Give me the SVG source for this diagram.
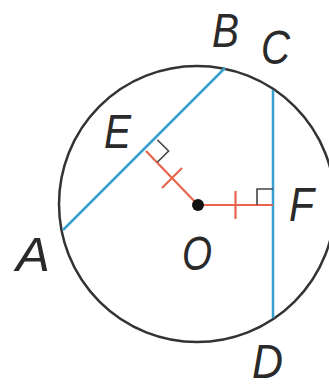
<svg xmlns="http://www.w3.org/2000/svg" width="329" height="389" viewBox="0 0 329 389">
<style>
.lbl{font-family:"Liberation Sans",Arial,sans-serif;font-style:italic;font-size:48px;fill:#2a2a2a}
.chord{stroke:#3a9fd2;stroke-width:2.5;fill:none}
.red{stroke:#e8654d;stroke-width:2.2;fill:none}
.ra{stroke:#444;stroke-width:1.6;fill:none}
</style>
<rect width="329" height="389" fill="#ffffff"/>
<g id="circle"><circle cx="197" cy="204" r="138" fill="none" stroke="#333" stroke-width="2.5"/></g>
<g id="connectors">
<line id="chordAB" class="chord" x1="63" y1="230" x2="225" y2="68"/>
<line id="chordCD" class="chord" x1="273" y1="90" x2="273" y2="318"/>
<line id="OE" class="red" x1="198" y1="205" x2="146" y2="151"/>
<line id="OF" class="red" x1="198" y1="205" x2="273" y2="205"/>
<line class="red" x1="162" y1="188" x2="182" y2="168"/>
<line class="red" x1="235.5" y1="191" x2="235.5" y2="219"/>
<path class="ra" d="M157.3,139.7 L168.6,151 L157.3,162.3"/>
<path class="ra" d="M273,189 L257,189 L257,205"/>
</g>
<g id="O"><circle cx="198" cy="205" r="6" fill="#111"/><text class="lbl" x="182" y="270" textLength="30" lengthAdjust="spacingAndGlyphs">O</text></g>
<g id="A"><text class="lbl" x="16" y="271" textLength="34" lengthAdjust="spacingAndGlyphs">A</text></g>
<g id="B"><text class="lbl" x="212" y="47" textLength="27" lengthAdjust="spacingAndGlyphs">B</text></g>
<g id="C"><text class="lbl" x="261" y="64" textLength="29" lengthAdjust="spacingAndGlyphs">C</text></g>
<g id="D"><text class="lbl" x="252" y="378" textLength="31" lengthAdjust="spacingAndGlyphs">D</text></g>
<g id="E"><text class="lbl" x="104" y="148" textLength="27" lengthAdjust="spacingAndGlyphs">E</text></g>
<g id="F"><text class="lbl" x="289" y="221" textLength="25" lengthAdjust="spacingAndGlyphs">F</text></g>
</svg>
